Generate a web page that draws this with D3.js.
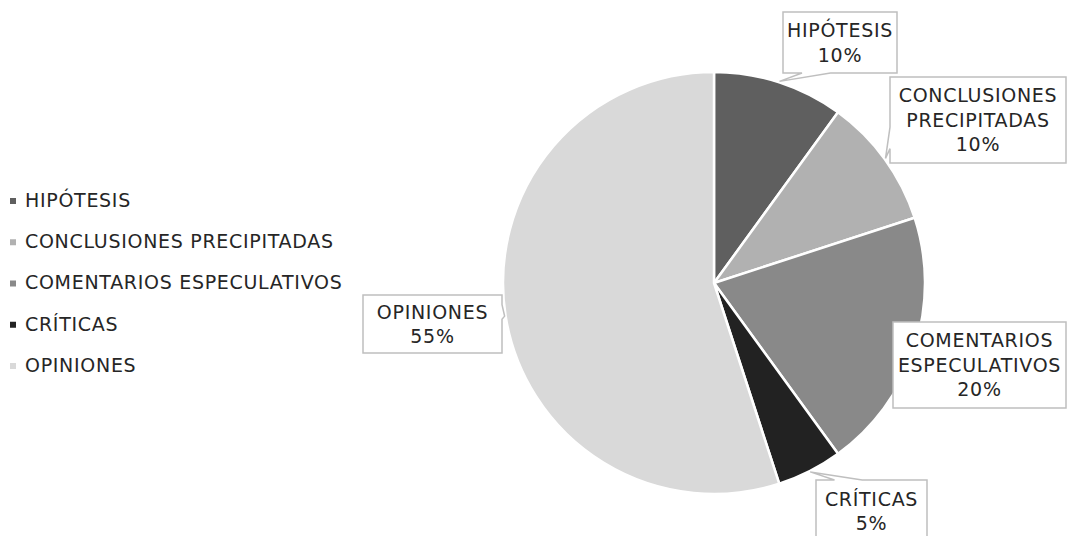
<!DOCTYPE html>
<html>
<head>
<meta charset="utf-8">
<script src="https://cdn.jsdelivr.net/npm/d3@7"></script>
<style>
  body { margin: 0; background: #fff; }
  svg { display: block; }
  text { font-family: "DejaVu Sans", sans-serif; fill: #262626; }
</style>
</head>
<body>
<svg id="chart" width="1067" height="536"></svg>
<script>
// ---- data ----
const categories = ["HIPÓTESIS", "CONCLUSIONES PRECIPITADAS", "COMENTARIOS ESPECULATIVOS", "CRÍTICAS", "OPINIONES"];
const shares = [10, 10, 20, 5, 55];
const labelLines = [["HIPÓTESIS"], ["CONCLUSIONES", "PRECIPITADAS"], ["COMENTARIOS", "ESPECULATIVOS"], ["CRÍTICAS"], ["OPINIONES"]];
const sliceColors = ["#5f5f5f", "#b1b1b1", "#898989", "#222222", "#d9d9d9"];

// ---- layout ----
const W = 1067, H = 536;
const cx = 714, cy = 283, radius = 211;
const fontSize = 19, letterSpacing = 0.7, lineHeight = 24.5;
// callout boxes: left, top, width, height
const calloutBoxes = [
  { x: 783, y: 12,  w: 114, h: 61 },
  { x: 890, y: 77,  w: 176, h: 86 },
  { x: 893, y: 322, w: 173, h: 86 },
  { x: 816, y: 480, w: 111, h: 62 },
  { x: 363, y: 295, w: 139, h: 58 }
];

const svg = d3.select("#chart");

const data = categories.map((c, i) => ({ name: c, value: shares[i], color: sliceColors[i], lines: labelLines[i], box: calloutBoxes[i] }));

const pie = d3.pie().sort(null).value(d => d.value);
const arc = d3.arc().innerRadius(0).outerRadius(radius);
const arcs = pie(data);

const g = svg.append("g").attr("transform", `translate(${cx},${cy})`);
g.selectAll("path.slice")
  .data(arcs)
  .join("path")
  .attr("class", "slice")
  .attr("d", arc)
  .attr("fill", d => d.data.color)
  .attr("stroke", "#fff")
  .attr("stroke-width", 2.5)
  .attr("stroke-linejoin", "round");

// rectangular callout with a wedge pointing at (tx, ty)
function calloutPath(b, tx, ty) {
  const l = b.x, t = b.y, r = b.x + b.w, bt = b.y + b.h;
  const hc = l + b.w / 2, vc = t + b.h / 2;
  const dxPos = tx - hc, dyPos = ty - vc;
  const p = d3.path();
  const inside = tx >= l && tx <= r && ty >= t && ty <= bt;
  if (inside) { p.rect(l, t, b.w, b.h); return p.toString(); }
  const x1 = l + b.w * (dxPos > 0 ? 7 : 2) / 12, x2 = l + b.w * (dxPos > 0 ? 10 : 5) / 12;
  const y1 = t + b.h * (dyPos > 0 ? 7 : 2) / 12, y2 = t + b.h * (dyPos > 0 ? 10 : 5) / 12;
  const horiz = Math.abs(dxPos * b.h) > Math.abs(dyPos * b.w);
  p.moveTo(l, t);
  if (!horiz && dyPos < 0) { p.lineTo(x1, t); p.lineTo(tx, ty); p.lineTo(x2, t); }
  p.lineTo(r, t);
  if (horiz && dxPos > 0) { p.lineTo(r, y1); p.lineTo(tx, ty); p.lineTo(r, y2); }
  p.lineTo(r, bt);
  if (!horiz && dyPos > 0) { p.lineTo(x2, bt); p.lineTo(tx, ty); p.lineTo(x1, bt); }
  p.lineTo(l, bt);
  if (horiz && dxPos < 0) { p.lineTo(l, y2); p.lineTo(tx, ty); p.lineTo(l, y1); }
  p.closePath();
  return p.toString();
}

const labels = svg.append("g").selectAll("g.callout")
  .data(arcs)
  .join("g")
  .attr("class", "callout");

labels.append("path")
  .attr("d", d => {
    const mid = (d.startAngle + d.endAngle) / 2;
    const tx = cx + (radius + 1) * Math.sin(mid);
    const ty = cy - (radius + 1) * Math.cos(mid);
    return calloutPath(d.data.box, tx, ty);
  })
  .attr("fill", "#fff")
  .attr("stroke", "#bfbfbf")
  .attr("stroke-width", 1.5)
  .attr("stroke-linejoin", "miter");

labels.each(function (d) {
  const b = d.data.box;
  const lines = d.data.lines.concat([d.data.value + "%"]);
  const n = lines.length;
  const hc = b.x + b.w / 2, vc = b.y + b.h / 2;
  d3.select(this).selectAll("text")
    .data(lines)
    .join("text")
    .attr("x", hc)
    .attr("y", (s, i) => vc + (i - (n - 1) / 2) * lineHeight + 0.36 * fontSize)
    .attr("text-anchor", "middle")
    .style("font-size", fontSize + "px")
    .style("letter-spacing", letterSpacing + "px")
    .text(s => s);
});

// ---- legend ----
const legend = svg.append("g").attr("class", "legend");
const legendY = d3.scalePoint().domain(categories).range([200, 365]);
const items = legend.selectAll("g")
  .data(data)
  .join("g")
  .attr("transform", d => `translate(0,${legendY(d.name)})`);
items.append("rect")
  .attr("x", 10).attr("y", -2).attr("width", 6).attr("height", 6)
  .attr("fill", d => d.color);
items.append("text")
  .attr("x", 25)
  .attr("y", 0.36 * fontSize)
  .style("font-size", fontSize + "px")
  .style("letter-spacing", letterSpacing + "px")
  .text(d => d.name);
</script>
</body>
</html>
